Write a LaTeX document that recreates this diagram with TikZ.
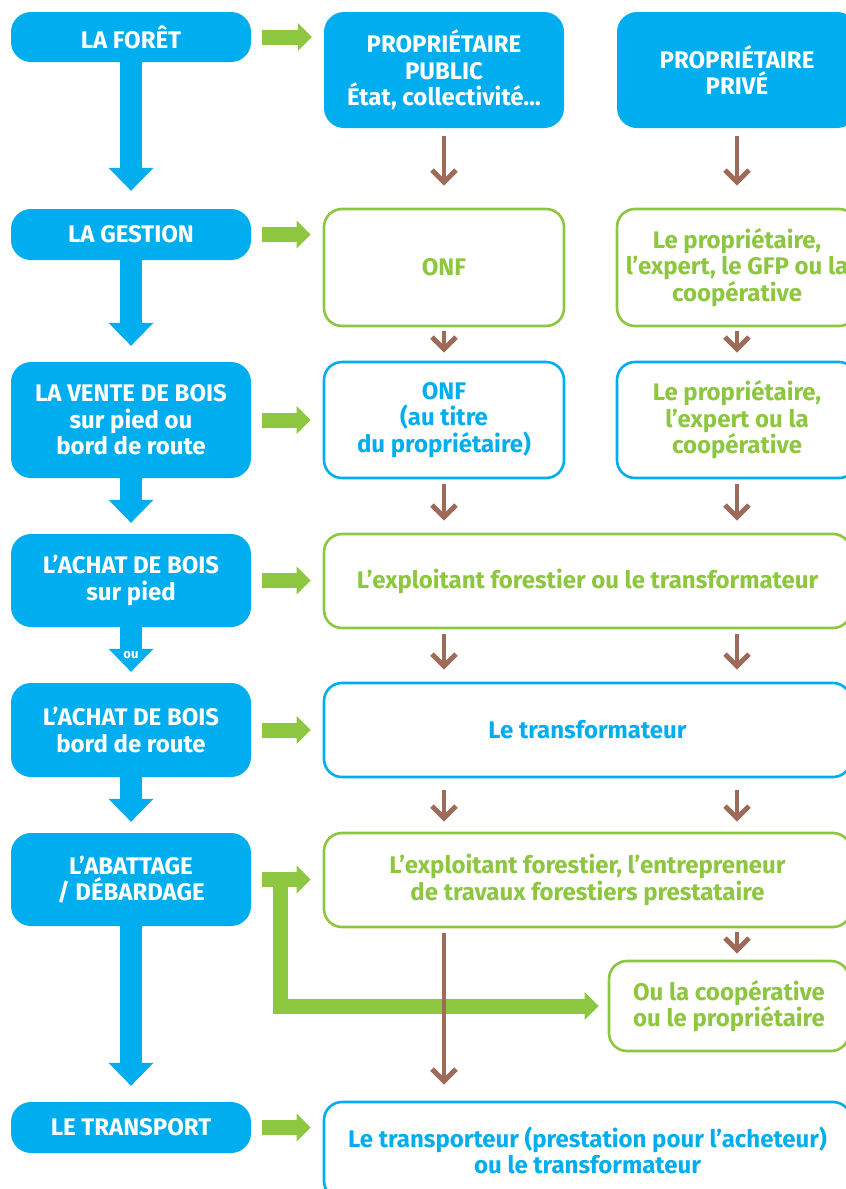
\documentclass[tikz,border=0pt]{standalone}
\usepackage{fontspec}
\setmainfont{Fira Sans}
\usetikzlibrary{arrows.meta,calc}
\definecolor{cblue}{RGB}{0,174,239}
\definecolor{cgreen}{RGB}{141,198,63}
\definecolor{cbrown}{RGB}{158,106,90}
\begin{document}
\begin{tikzpicture}[x=1pt,y=-1pt,
  every node/.style={font=\fontsize{24}{26.5}\selectfont\bfseries, align=center, inner sep=0pt},
  stage/.style={fill=cblue, text=white, rounded corners=20pt, minimum width=240pt},
  gbox/.style={draw=cgreen, line width=2.6pt, rounded corners=18pt, text=cgreen, fill=white},
  bbox/.style={draw=cblue, line width=2.6pt, rounded corners=18pt, text=cblue, fill=white},
  bluearr/.style={draw=cblue, line width=22pt, -{Triangle[width=45pt,length=23pt,line width=0pt]}},
  greenarr/.style={draw=cgreen, line width=15pt, line join=miter, -{Triangle[width=28pt,length=14pt,line width=0pt]}},
  brownarr/.style={draw=cbrown, line width=4.5pt, -{Straight Barb[width=24pt,length=12pt,line width=5pt]}},
  oulabel/.style={font=\fontsize{13}{13}\selectfont\bfseries, text=white}
]
\useasboundingbox (0,0) rectangle (846,1189);
\clip (0,0) rectangle (846,1189);

% left column stages
\node[stage, minimum height=50pt] (foret) at (131,37) {LA FORÊT};
\node[stage, minimum height=51pt] (gestion) at (131,234.5) {LA GESTION};
\node[stage, minimum height=116pt] (vente) at (131,420) {LA VENTE DE BOIS\\sur pied ou\\bord de route};
\node[stage, minimum height=93pt] (achat1) at (131,580.5) {L’ACHAT DE BOIS\\sur pied};
\node[stage, minimum height=94pt] (achat2) at (131,730) {L’ACHAT DE BOIS\\bord de route};
\node[stage, minimum height=93pt] (abattage) at (131,879.5) {L’ABATTAGE\\/ DÉBARDAGE};
\node[stage, minimum height=51pt] (transport) at (131,1127.5) {LE TRANSPORT};

% owners
\node[stage, minimum height=116pt] (pub) at (444,70) {PROPRIÉTAIRE\\PUBLIC\\État, collectivité…};
\node[stage, minimum height=116pt] (priv) at (737,70) {PROPRIÉTAIRE\\PRIVÉ};

% actors
\node[gbox, minimum width=240pt, minimum height=117pt] (onf) at (444,267.5) {ONF};
\node[gbox, minimum width=240pt, minimum height=117pt] (gestpriv) at (737,267.5) {Le propriétaire,\\l’expert, le GFP ou la\\coopérative};
\node[bbox, minimum width=240pt, minimum height=116pt] (onfvente) at (444,420) {ONF\\(au titre\\du propriétaire)};
\node[bbox, text=cgreen, minimum width=240pt, minimum height=116pt] (ventepriv) at (737,420) {Le propriétaire,\\l’expert ou la\\coopérative};
\node[gbox, minimum width=527pt, minimum height=94pt] (exploit) at (587.5,581) {L’exploitant forestier ou le transformateur};
\node[bbox, minimum width=527pt, minimum height=94pt] (transfo) at (587.5,730) {Le transformateur};
\node[gbox, minimum width=527pt, minimum height=94pt] (abatt2) at (587.5,880) {L’exploitant forestier, l’entrepreneur\\de travaux forestiers prestataire};
\node[gbox, minimum width=240pt, minimum height=90pt] (ou) at (729,1006) {Ou la coopérative\\ou le propriétaire};
\node[bbox, minimum width=527pt, minimum height=97pt] (transp2) at (587.5,1150.5) {Le transporteur (prestation pour l’acheteur)\\ou le transformateur};

% blue flow arrows
\draw[bluearr, shorten >=18pt] (foret) -- (gestion);
\draw[bluearr, shorten >=16pt] (gestion) -- (vente);
\draw[bluearr, shorten >=11pt] (vente) -- (achat1);
\draw[bluearr, shorten >=11pt] (achat1) -- node[oulabel, pos=0.5] {ou} (achat2);
\draw[bluearr, shorten >=11pt] (achat2) -- (abattage);
\draw[bluearr, shorten >=16pt] (abattage) -- (transport);

% green arrows
\draw[greenarr, shorten <=11pt, shorten >=12pt] (foret.east) -- (foret.east -| pub.west);
\draw[greenarr, shorten <=11pt, shorten >=12pt] (gestion.east) -- (gestion.east -| onf.west);
\draw[greenarr, shorten <=11pt, shorten >=12pt] (vente.east) -- (vente.east -| onfvente.west);
\draw[greenarr, shorten <=11pt, shorten >=12pt] (achat1.east) -- (achat1.east -| exploit.west);
\draw[greenarr, shorten <=11pt, shorten >=12pt] (achat2.east) -- (achat2.east -| transfo.west);
\draw[greenarr, shorten <=11pt, shorten >=12pt] (abattage.east) -- (abattage.east -| abatt2.west);
\draw[greenarr, shorten <=11pt, shorten >=12pt] (transport.east) -- (transport.east -| transp2.west);
\draw[greenarr, shorten >=9pt] ($(abattage.east)+(29.5,-7.5)$) |- (ou.west);

% brown arrows
\draw[brownarr, shorten <=8pt, shorten >=22pt] (pub) -- (onf);
\draw[brownarr, shorten <=8pt, shorten >=22pt] (priv) -- (gestpriv);
\draw[brownarr, shorten <=4pt, shorten >=8pt] (onf) -- (onfvente);
\draw[brownarr, shorten <=4pt, shorten >=8pt] (gestpriv) -- (ventepriv);
\draw[brownarr, shorten <=5pt, shorten >=12pt] (onfvente.south) -- (onfvente.south |- exploit.north);
\draw[brownarr, shorten <=5pt, shorten >=12pt] (ventepriv.south) -- (ventepriv.south |- exploit.north);
\draw[brownarr, shorten <=5pt, shorten >=12pt] (exploit.south -| onfvente.south) -- (transfo.north -| onfvente.south);
\draw[brownarr, shorten <=5pt, shorten >=12pt] (exploit.south -| ventepriv.south) -- (transfo.north -| ventepriv.south);
\draw[brownarr, shorten <=12pt, shorten >=10pt] (transfo.south -| onfvente.south) -- (abatt2.north -| onfvente.south);
\draw[brownarr, shorten <=12pt, shorten >=10pt] (transfo.south -| ventepriv.south) -- (abatt2.north -| ventepriv.south);
\draw[brownarr, shorten <=4pt, shorten >=6pt] (abatt2.south -| ventepriv.south) -- (ou.north -| ventepriv.south);
\draw[brownarr, shorten <=5pt, shorten >=16pt] (abatt2.south -| onfvente.south) -- (transp2.north -| onfvente.south);
\end{tikzpicture}
\end{document}
